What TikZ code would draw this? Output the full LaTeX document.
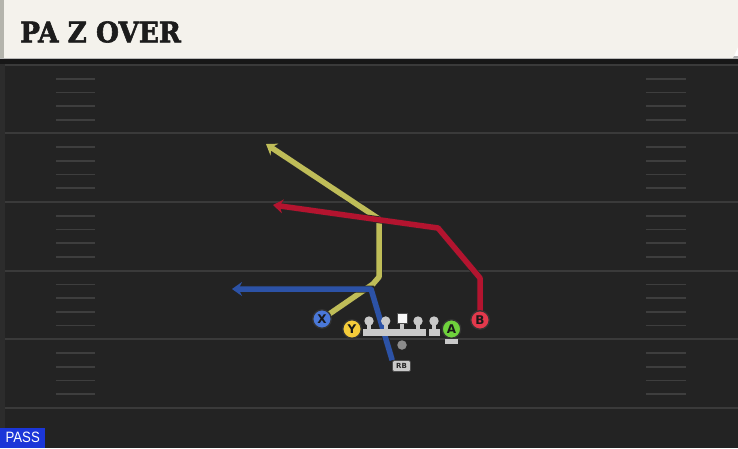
\documentclass[tikz,border=0pt]{standalone}
\usepackage{fontspec}
\usetikzlibrary{arrows.meta}
\newfontfamily\titlefont{DejaVu Serif}[BoldFeatures={FakeBold=2.2}]
\newfontfamily\passfont{Liberation Sans}
\newfontfamily\lblfont{DejaVu Sans}
\definecolor{fieldc}{HTML}{232323}
\definecolor{stripc}{HTML}{2C2C2C}
\definecolor{bandc}{HTML}{171717}
\definecolor{yardc}{HTML}{3A3A3A}
\definecolor{hashc}{HTML}{3E3E3E}
\definecolor{headc}{HTML}{F4F2EC}
\definecolor{headstrip}{HTML}{B4B4AC}
\definecolor{titlec}{HTML}{1C1C1C}
\definecolor{passc}{HTML}{1B36D8}
\definecolor{xcol}{HTML}{4A78D8}
\definecolor{ycol}{HTML}{F5CC3A}
\definecolor{acol}{HTML}{6FD23C}
\definecolor{bcol}{HTML}{E2394C}
\definecolor{yroute}{HTML}{BFBD58}
\definecolor{rroute}{HTML}{B3142F}
\definecolor{broute}{HTML}{2C52A6}
\definecolor{linec}{HTML}{C9C9C9}
\definecolor{qbc}{HTML}{8C8C8C}
\pgfdeclarelayer{bg}
\pgfdeclarelayer{rt}
\pgfsetlayers{bg,rt,main}
\tikzset{
  yard/.style={draw=yardc, line width=2pt},
  hashm/.style={draw=hashc, line width=1.6pt},
  player/.style={circle, minimum size=18.5pt, inner sep=0pt, draw=black!80, line width=1.3pt, text=black!90, font=\lblfont\bfseries\fontsize{12}{12}\selectfont},
  route/.style={line width=5.5pt, line join=round, -{Stealth[length=10pt,width=14pt,inset=3.5pt]}, preaction={draw=black!85, line width=7pt}},
  lman/.style={fill=linec},
  centersq/.style={draw=black!70, line width=0.5pt, fill=white!94!gray, minimum size=10pt, inner sep=0pt},
}
\begin{document}
\begin{tikzpicture}[x=1pt,y=-1pt]
\useasboundingbox (0,0) rectangle (738,448);
% players and marks
\node[player, fill=xcol] (X) at (322,319) {X};
\node[player, fill=ycol] (Y) at (352,329) {Y};
\node[player, fill=acol] (A) at (451.5,329) {A};
\node[player, fill=bcol] (B) at (480,320) {B};
\node[circle, fill=qbc, minimum size=9.5pt, inner sep=0pt] (QB) at (402,345) {};
\node[draw=black!70, line width=0.6pt, fill=linec, minimum width=18pt, minimum height=11pt, inner sep=0pt,
      rounded corners=1.5pt, text=black!85, font=\lblfont\bfseries\fontsize{7}{7}\selectfont] (RB) at (401.5,366) {RB};
\coordinate (L1) at (369,321);
\coordinate (L2) at (385.7,321);
\coordinate (L4) at (418,321);
\coordinate (L5) at (434,321);
\coordinate (LC) at (402,318);
% linemen icons
\fill[lman] (362.5,328.5) rectangle (425.5,335.5);
\foreach \p in {L1,L2,L4,L5} {
  \fill[lman] ([xshift=-2.2pt]\p) rectangle ([xshift=2.2pt,yshift=-10pt]\p);
  \fill[lman] (\p) circle (4.7pt);
}
\fill[lman] (399.8,318) rectangle (404.2,330);
\fill[lman] (428.5,328.5) rectangle (440,335.5);
\node[centersq] (C) at (LC) {};
% A stance
\fill[lman] ([xshift=-2.2pt]A.south) rectangle (453.7,341);
\fill[lman] (445,339) rectangle (458,344);
% routes
\coordinate (y1) at (373,284);
\coordinate (y2) at (379,277);
\coordinate (y3) at (379,219);
\coordinate (y4) at (266,144);
\coordinate (r1) at (480,278);
\coordinate (r2) at (438,228);
\coordinate (r3) at (273,205);
\coordinate (b1) at (371,289);
\coordinate (b2) at (232,289);
\begin{pgfonlayer}{rt}
\draw[route, draw=yroute] (X.center) -- (y1) -- (y2) -- (y3) -- (y4);
\draw[route, draw=rroute] (B.center) -- (r1) -- (r2) -- (r3);
\draw[route, draw=broute] (RB.north west) -- (b1) -- (b2);
\end{pgfonlayer}
% field
\begin{pgfonlayer}{bg}
\fill[fieldc] (0,59) rectangle (738,448);
\fill[stripc] (0,59) rectangle (5,448);
\fill[bandc] (0,59) rectangle (738,64);
\foreach \yy in {65,133.3,202,270.6,339.3,408} \draw[yard] (5,\yy) -- (738,\yy);
\foreach \yy in {65,133.3,202,270.6,339.3} {
  \foreach \k in {1,2,3,4} {
    \draw[hashm] (56,\yy+\k*13.73) -- (95,\yy+\k*13.73);
    \draw[hashm] (646,\yy+\k*13.73) -- (686,\yy+\k*13.73);
  }
}
% header
\fill[gray!60] (0,56) rectangle (738,59);
\fill[headc] (0,0) -- (738,0) -- (738,47) -- (733,58) -- (0,58) -- cycle;
\fill[headstrip] (0,0) rectangle (4,58);
\end{pgfonlayer}
\node[anchor=base west, inner sep=0pt, text=titlec] (title) at (20,42.3)
  {\scalebox{0.93}[1]{\titlefont\bfseries\fontsize{28.3}{28.3}\selectfont PA Z OVER}};
% PASS label
\node[anchor=south west, fill=passc, minimum width=45pt, minimum height=20pt, inner sep=0pt, text=white] (pass) at (0,448)
  {\scalebox{0.88}[1]{\passfont\fontsize{15}{15}\selectfont PASS}};
\end{tikzpicture}
\end{document}
